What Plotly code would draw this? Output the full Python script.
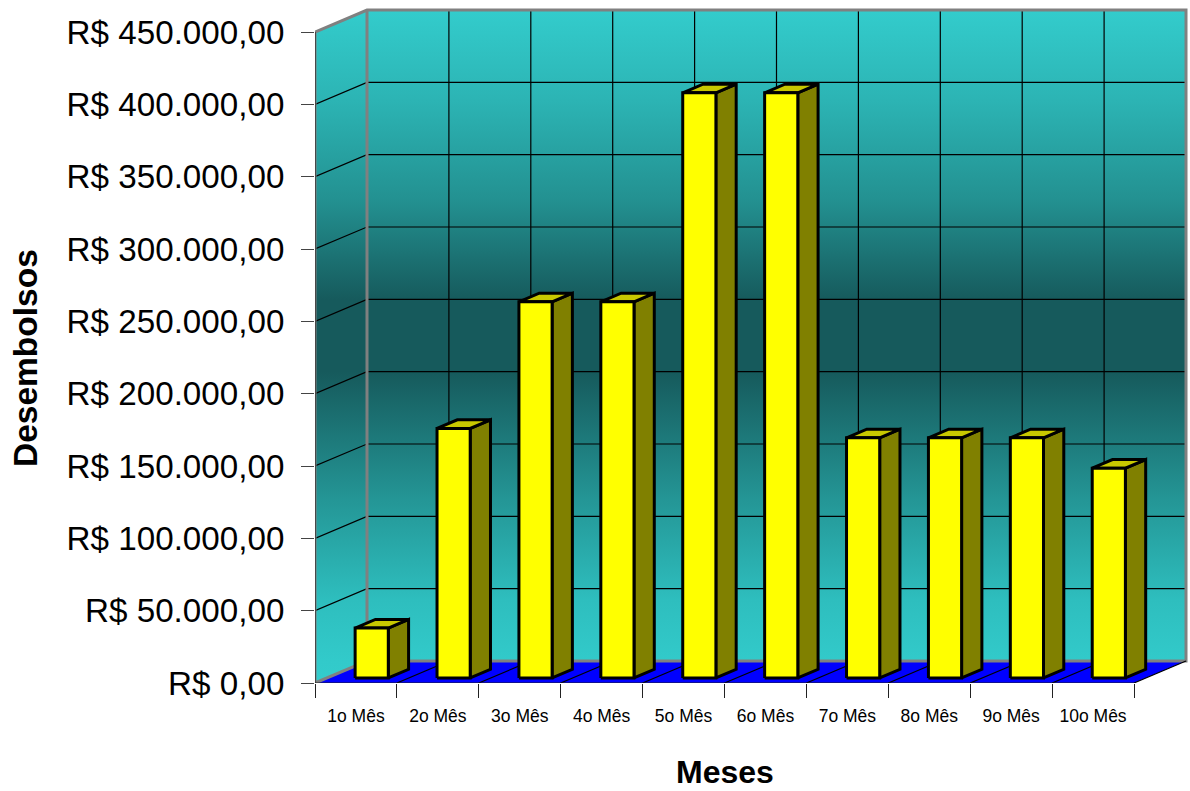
import plotly.graph_objects as go

# Monthly disbursements
categories = ["1o Mês", "2o Mês", "3o Mês", "4o Mês", "5o Mês",
              "6o Mês", "7o Mês", "8o Mês", "9o Mês", "10o Mês"]
desembolsos = [34500, 172500, 260000, 260000, 404500,
               404500, 166000, 166000, 166000, 145000]
value_ticks = [0, 50000, 100000, 150000, 200000, 250000, 300000, 350000, 400000, 450000]
value_labels = ["R$ 0,00", "R$ 50.000,00", "R$ 100.000,00", "R$ 150.000,00", "R$ 200.000,00",
                "R$ 250.000,00", "R$ 300.000,00", "R$ 350.000,00", "R$ 400.000,00", "R$ 450.000,00"]

# Oblique projection: how far one full unit of depth shifts a point in data units
SHIFT_X = 52 / 81.9
SHIFT_Y = 22 / 72.33 * 50000
N = len(categories)
TOP = value_ticks[-1]

# Bar placement inside a category slot, and its depth span
BAR_LEFT, BAR_WIDTH = 0.344, 0.405
BAR_D0, BAR_D1 = 0.23, 0.62


def proj(c, v, d=0.0):
    return c + d * SHIFT_X, v + d * SHIFT_Y


def path(points):
    xs, ys = zip(*points)
    return list(xs), list(ys)


def multi(polys):
    xs, ys = [], []
    for p in polys:
        px, py = path(p)
        xs += px + [None]
        ys += py + [None]
    return xs, ys


fig = go.Figure()


def area(polys, color=None, line=None, width=0, gradient=None):
    xs, ys = multi(polys)
    kw = dict(x=xs, y=ys, mode="lines", fill="toself", hoverinfo="skip", showlegend=False,
              cliponaxis=False, line=dict(color=line or "rgba(0,0,0,0)", width=width, simplify=False))
    if gradient:
        kw["fillgradient"] = gradient
    else:
        kw["fillcolor"] = color
    fig.add_trace(go.Scatter(**kw))


def stroke(polys, color, width):
    xs, ys = multi(polys)
    fig.add_trace(go.Scatter(x=xs, y=ys, mode="lines", hoverinfo="skip", showlegend=False,
                             cliponaxis=False, line=dict(color=color, width=width, simplify=False)))


# Teal wall shading, darkest in a band across the middle
wall_gradient = dict(type="vertical", start=0, stop=proj(0, TOP, 1)[1],
                     colorscale=[[0, "#33CCCC"], [0.033, "#32CACA"], [0.123, "#2EBEBE"],
                                 [0.272, "#249696"], [0.462, "#165A5C"], [0.569, "#165A5C"],
                                 [0.718, "#239191"], [0.866, "#2CB4B4"], [1, "#33CCCC"]])

# Side wall and back wall
area([[proj(0, 0), proj(0, TOP), proj(0, TOP, 1), proj(0, 0, 1)]], gradient=wall_gradient)
area([[proj(0, 0, 1), proj(0, TOP, 1), proj(N, TOP, 1), proj(N, 0, 1)]], gradient=wall_gradient)

# Floor
area([[proj(0, 0), proj(N, 0), proj(N, 0, 1), proj(0, 0, 1)]], color="#0000FF")

# Grid on the walls and floor
inner = value_ticks[1:-1]
stroke([[proj(0, v), proj(0, v, 1), proj(N, v, 1)] for v in inner], "#000000", 1.2)
stroke([[proj(c, 0, 1), proj(c, TOP, 1)] for c in range(1, N)], "#000000", 1.2)

# Wall outlines
stroke([[proj(0, 0), proj(0, TOP), proj(0, TOP, 1), proj(N, TOP, 1), proj(N, 0, 1), proj(0, 0, 1), proj(0, 0)],
        [proj(0, TOP, 1), proj(0, 0, 1)]], "#808080", 3)

# Floor divisions and front axes
stroke([[proj(c, 0), proj(c, 0, 1)] for c in range(1, N + 1)], "#000000", 1.2)
stroke([[proj(0, 0), proj(N, 0)]], "#222222", 1.2)
stroke([[proj(0, 0), proj(0, TOP)]], "#222222", 1.2)

# Bars: one trace per face
fronts, sides, tops = [], [], []
for i, v in enumerate(desembolsos):
    a, b = i + BAR_LEFT, i + BAR_LEFT + BAR_WIDTH
    fronts.append([proj(a, 0, BAR_D0), proj(a, v, BAR_D0), proj(b, v, BAR_D0), proj(b, 0, BAR_D0), proj(a, 0, BAR_D0)])
    sides.append([proj(b, 0, BAR_D0), proj(b, v, BAR_D0), proj(b, v, BAR_D1), proj(b, 0, BAR_D1), proj(b, 0, BAR_D0)])
    tops.append([proj(a, v, BAR_D0), proj(b, v, BAR_D0), proj(b, v, BAR_D1), proj(a, v, BAR_D1), proj(a, v, BAR_D0)])
area(sides, color="#808000", line="#000000", width=3)
area(tops, color="#C8C800", line="#000000", width=3)
area(fronts, color="#FFFF00", line="#000000", width=3)

FONT = "Liberation Sans, Arial, sans-serif"
fig.update_layout(
    width=1190, height=791, autosize=False,
    margin=dict(l=315, r=0, t=0, b=108),
    paper_bgcolor="#FFFFFF", plot_bgcolor="#FFFFFF",
    showlegend=False,
    xaxis=dict(
        range=[0, 875 / 81.9], showgrid=False, zeroline=False, showline=False,
        tickmode="array", tickvals=[i + 0.5 for i in range(N)], ticktext=categories,
        ticks="", ticklabelstandoff=20,
        tickfont=dict(family=FONT, size=17.5, color="#000000"),
        minor=dict(tickmode="array", tickvals=list(range(N + 1)), ticks="outside",
                   ticklen=14, tickwidth=1.2, tickcolor="#222222", showgrid=False),
    ),
    yaxis=dict(
        range=[0, 683 / 72.33 * 50000], showgrid=False, zeroline=False, showline=False,
        tickmode="array", tickvals=value_ticks, ticktext=value_labels,
        ticks="outside", ticklen=13, tickwidth=1.3, tickcolor="#444444", ticklabelstandoff=10,
        tickfont=dict(family=FONT, size=33.2, color="#000000"),
    ),
    annotations=[
        dict(text="<b>Meses</b>", xref="paper", yref="paper", x=(725 - 315) / 875, y=(683 - 772) / 683,
             xanchor="center", yanchor="middle", showarrow=False,
             font=dict(family=FONT, size=32, color="#000000")),
        dict(text="<b>Desembolsos</b>", xref="paper", yref="paper", x=(25 - 315) / 875, y=(683 - 358) / 683,
             xanchor="center", yanchor="middle", showarrow=False, textangle=-90,
             font=dict(family=FONT, size=33.5, color="#000000")),
    ],
)

fig.write_html("out.html")
